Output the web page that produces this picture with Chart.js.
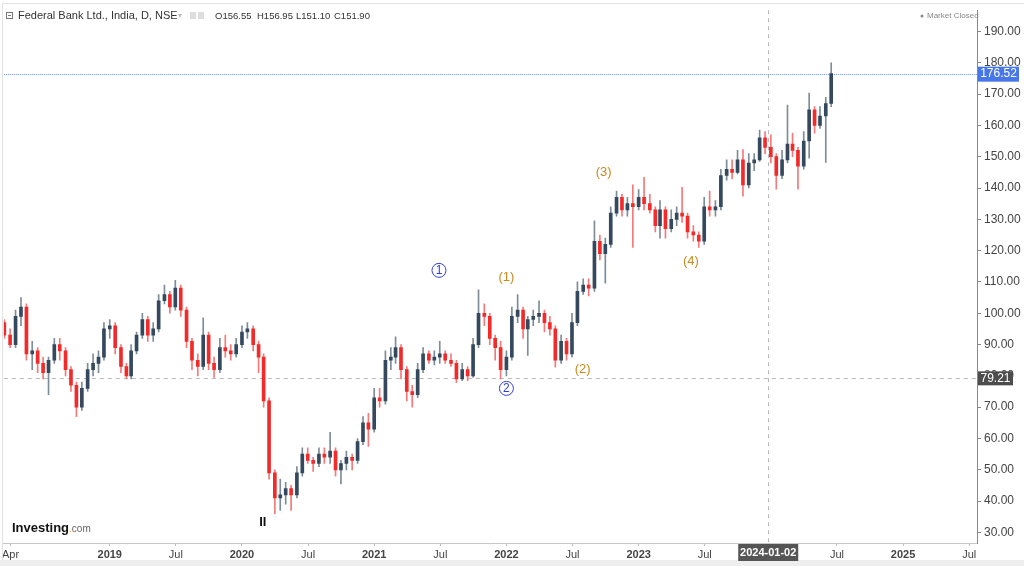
<!DOCTYPE html>
<html>
<head>
<meta charset="utf-8">
<script src="https://cdn.jsdelivr.net/npm/chart.js@4.4.1/dist/chart.umd.min.js"></script>
<style>
  html, body { margin: 0; padding: 0; background: #fff; }
  #wrap { position: relative; width: 1024px; height: 566px; overflow: hidden; }
  canvas { display: block; }
</style>
</head>
<body>
<div id="wrap"><canvas id="chart" width="1024" height="566"></canvas></div>
<script>
// half-month candles
const dates = [
  '2018-03-16','2018-04-01','2018-04-16','2018-05-01','2018-05-16','2018-06-01','2018-06-16','2018-07-01','2018-07-16','2018-08-01',
  '2018-08-16','2018-09-01','2018-09-16','2018-10-01','2018-10-16','2018-11-01','2018-11-16','2018-12-01','2018-12-16','2019-01-01',
  '2019-01-16','2019-02-01','2019-02-16','2019-03-01','2019-03-16','2019-04-01','2019-04-16','2019-05-01','2019-05-16','2019-06-01',
  '2019-06-16','2019-07-01','2019-07-16','2019-08-01','2019-08-16','2019-09-01','2019-09-16','2019-10-01','2019-10-16','2019-11-01',
  '2019-11-16','2019-12-01','2019-12-16','2020-01-01','2020-01-16','2020-02-01','2020-02-16','2020-03-01','2020-03-16','2020-04-01',
  '2020-04-16','2020-05-01','2020-05-16','2020-06-01','2020-06-16','2020-07-01','2020-07-16','2020-08-01','2020-08-16','2020-09-01',
  '2020-09-16','2020-10-01','2020-10-16','2020-11-01','2020-11-16','2020-12-01','2020-12-16','2021-01-01','2021-01-16','2021-02-01',
  '2021-02-16','2021-03-01','2021-03-16','2021-04-01','2021-04-16','2021-05-01','2021-05-16','2021-06-01','2021-06-16','2021-07-01',
  '2021-07-16','2021-08-01','2021-08-16','2021-09-01','2021-09-16','2021-10-01','2021-10-16','2021-11-01','2021-11-16','2021-12-01',
  '2021-12-16','2022-01-01','2022-01-16','2022-02-01','2022-02-16','2022-03-01','2022-03-16','2022-04-01','2022-04-16','2022-05-01',
  '2022-05-16','2022-06-01','2022-06-16','2022-07-01','2022-07-16','2022-08-01','2022-08-16','2022-09-01','2022-09-16','2022-10-01',
  '2022-10-16','2022-11-01','2022-11-16','2022-12-01','2022-12-16','2023-01-01','2023-01-16','2023-02-01','2023-02-16','2023-03-01',
  '2023-03-16','2023-04-01','2023-04-16','2023-05-01','2023-05-16','2023-06-01','2023-06-16','2023-07-01','2023-07-16','2023-08-01',
  '2023-08-16','2023-09-01','2023-09-16','2023-10-01','2023-10-16','2023-11-01','2023-11-16','2023-12-01','2023-12-16','2024-01-01',
  '2024-01-16','2024-02-01','2024-02-16','2024-03-01','2024-03-16','2024-04-01','2024-04-16','2024-05-01','2024-05-16','2024-06-01',
  '2024-06-16'
];
const opens = [
  97, 93, 90, 99, 102, 87, 88, 84, 81, 85,
  90, 88, 82, 77, 70, 76, 82, 84, 86, 95,
  96, 89, 83, 80, 88, 93, 98, 93, 95, 104,
  106, 102, 108, 101, 91, 85, 83, 93, 84, 82,
  89, 88, 87, 90, 94, 95, 90, 86, 72, 49,
  41, 42, 44, 42, 49, 55, 53, 52, 55, 54,
  56, 50, 52, 54, 53, 59, 65, 63, 73, 72,
  85, 86, 89, 82, 75, 74, 82, 87, 85, 86,
  87, 85, 84, 79, 82, 80, 90, 100, 99, 92,
  89, 82, 86, 99, 101, 95, 98, 99, 100, 97,
  95, 85, 91, 87, 97, 107, 109, 108, 123, 119,
  122, 132, 137, 133, 135, 134, 137, 135, 133, 128,
  133, 127, 130, 132, 131, 126, 125, 123, 134, 133,
  134, 144, 146, 145, 149, 141, 148, 149, 156, 153,
  150, 144, 149, 154, 152, 147, 155, 165, 160, 163,
  167
];
const highs = [
  98, 95, 101, 105, 103, 91, 89, 86, 86, 92,
  92, 89, 83, 78, 78, 84, 87, 88, 97, 98,
  97, 90, 84, 90, 94, 100, 99, 97, 106, 109,
  107, 110.5, 109, 102, 92, 87, 98.5, 94, 86, 92,
  93, 90, 92, 96, 97, 96, 91, 87, 73, 50,
  47, 46, 45, 51, 57, 57, 54, 57, 57, 62,
  57, 53, 56, 55, 60, 67, 68, 76, 76, 88,
  89, 92.5, 90, 83, 77, 84, 89, 88, 88, 91,
  88, 87, 85, 84, 83, 92, 107.5, 103, 100, 93,
  91, 88, 102, 106, 102, 99, 101, 104, 101, 99,
  96, 93, 92, 100, 110, 111, 111, 129.5, 125, 124,
  134, 139, 138, 137, 141, 139.5, 143.4, 138, 134, 136,
  134, 133, 134, 140.2, 132, 128, 126, 137, 139, 136,
  146, 149, 149, 152, 152.3, 151, 151, 158.5, 158, 157,
  151, 152, 166.5, 157.5, 153, 158, 170.3, 166, 166, 169,
  180
];
const lows = [
  92, 89, 89, 96, 85, 82, 81, 79, 74, 84,
  85, 80, 75, 67, 69, 75, 80, 81, 85, 92,
  87, 81, 79, 79, 87, 92, 91, 91, 94, 103,
  100, 101, 99, 89, 82, 80, 82, 82, 79.5, 81,
  86, 85, 86, 89, 92, 88, 81, 70, 47, 36,
  37, 39, 37, 41, 48, 52, 49.5, 51, 52, 52,
  48, 45.5, 50, 50, 52, 58, 57.5, 62, 70, 71,
  82, 84, 79, 72, 70, 73, 81, 84, 83.5, 84,
  84, 83, 77.8, 78.5, 78.5, 79.5, 89, 96, 90, 85,
  79, 80, 85, 97, 92, 86.5, 96, 97, 94, 93,
  82.8, 84, 85, 86, 96, 106, 105.5, 107, 117, 109.6,
  121, 131, 131, 131, 121, 133, 133, 132, 126, 124,
  124, 126, 128, 129, 124, 123, 121, 122, 131, 131,
  133, 142.5, 143, 144.5, 137.4, 140, 145.5, 148.5, 151, 148,
  139.6, 143, 148, 150, 139.6, 146, 149.5, 157.5, 159, 148.2,
  166
];
const closes = [
  93, 90, 99, 102, 87, 88, 84, 81, 85, 90,
  88, 82, 77, 70, 76, 82, 84, 86, 95, 96,
  89, 83, 80, 88, 93, 98, 93, 95, 104, 106,
  102, 108, 101, 91, 85, 83, 93, 84, 82, 89,
  88, 87, 90, 94, 95, 90, 86, 72, 49, 41,
  42, 44, 42, 49, 55, 53, 52, 55, 54, 56,
  50, 52, 54, 53, 59, 65, 63, 73, 72, 85,
  86, 89, 82, 75, 74, 82, 87, 85, 86, 87,
  85, 84, 79, 82, 80, 90, 100, 99, 92, 89,
  82, 86, 99, 101, 95, 98, 99, 100, 97, 95,
  85, 91, 87, 97, 107, 109, 108, 123, 119, 122,
  132, 137, 133, 135, 134, 137, 135, 133, 128, 133,
  127, 130, 132, 131, 126, 125, 123, 134, 133, 134,
  144, 146, 145, 149, 141, 148, 149, 156, 153, 150,
  144, 149, 154, 152, 147, 155, 165, 160, 163, 167,
  176.52
];

// axis ticks
const xTickValues = [2018.25, 2019, 2019.5, 2020, 2020.5, 2021, 2021.5, 2022, 2022.5, 2023, 2023.5, 2024, 2024.5, 2025, 2025.5];
const xTickLabels = ['Apr', '2019', 'Jul', '2020', 'Jul', '2021', 'Jul', '2022', 'Jul', '2023', 'Jul', '2024', 'Jul', '2025', 'Jul'];
const yTickValues = [30, 40, 50, 60, 70, 80, 90, 100, 110, 120, 130, 140, 150, 160, 170, 180, 190];

// wave count labels (x in years, y in price)
const circledText = ['1', '2'];
const circledX = [2021.49, 2022.0];
const circledY = [113.7, 76.0];
const waveText = ['(1)', '(2)', '(3)', '(4)'];
const waveX = [2022.0, 2022.577, 2022.735, 2023.395];
const waveY = [111.4, 82.1, 144.9, 116.5];

const crossDate = '2024-01-02';
const crossPrice = 79.21;
const lastPrice = 176.52;

const upColor = '#34495e';
const downColor = '#f22a2a';
const upWick = '#7d8d97';
const downWick = '#f27a7a';

function toYear(s) {
    const d = new Date(s + 'T00:00:00Z');
    const y = d.getUTCFullYear();
    const a = Date.UTC(y, 0, 1), b = Date.UTC(y + 1, 0, 1);
    return y + (d.getTime() - a) / (b - a);
}

const isUp = (i) => closes[i] >= opens[i];

const overlay = {
    id: 'overlay',
    beforeDatasetsDraw(chart) {
        const { ctx, chartArea: a, scales: { x, y } } = chart;
        ctx.save();
        // crosshair
        ctx.strokeStyle = '#b8b8b8';
        ctx.lineWidth = 1;
        ctx.setLineDash([4, 4]);
        const cx = Math.round(x.getPixelForValue(toYear(crossDate))) - 2.5;
        ctx.beginPath(); ctx.moveTo(cx, a.top); ctx.lineTo(cx, a.bottom); ctx.stroke();
        const cy = Math.round(y.getPixelForValue(crossPrice)) + 0.5;
        ctx.beginPath(); ctx.moveTo(a.left, cy); ctx.lineTo(a.right, cy); ctx.stroke();
        // last price line
        ctx.strokeStyle = '#6f8ff0';
        ctx.setLineDash([1, 1]);
        const ly = Math.round(y.getPixelForValue(lastPrice)) + 0.5;
        ctx.beginPath(); ctx.moveTo(a.left, ly); ctx.lineTo(a.right, ly); ctx.stroke();
        ctx.restore();
    },
    afterDraw(chart) {
        const { ctx, chartArea: a, scales: { x, y } } = chart;
        ctx.save();

        // frame lines
        ctx.strokeStyle = '#e2e2e2';
        ctx.lineWidth = 1;
        ctx.beginPath(); ctx.moveTo(2.5, 3); ctx.lineTo(2.5, 560); ctx.stroke();
        ctx.beginPath(); ctx.moveTo(2, 3.5); ctx.lineTo(1024, 3.5); ctx.stroke();

        // bottom strip
        ctx.fillStyle = '#eeeeee';
        ctx.fillRect(0, 560, 1024, 6);

        // title
        ctx.textBaseline = 'middle';
        ctx.fillStyle = '#333';
        ctx.strokeStyle = '#777';
        ctx.strokeRect(6.5, 12.5, 6, 6);
        ctx.beginPath(); ctx.moveTo(8, 15.5); ctx.lineTo(11, 15.5); ctx.stroke();
        ctx.font = '11px "Liberation Sans", Arial, sans-serif';
        ctx.fillText('Federal Bank Ltd., India, D, NSE', 18, 16);
        ctx.fillStyle = '#bbb';
        ctx.font = '8px "DejaVu Sans", sans-serif';
        ctx.fillText('\u25BE', 178, 16);
        ctx.fillStyle = '#ddd';
        ctx.fillRect(190, 12, 6, 7);
        ctx.fillRect(198, 12, 6, 7);
        ctx.fillStyle = '#333';
        ctx.font = '9.5px "Liberation Sans", Arial, sans-serif';
        ctx.fillText('O156.55', 215, 16);
        ctx.fillText('H156.95', 257, 16);
        ctx.fillText('L151.10', 296, 16);
        ctx.fillText('C151.90', 334, 16);

        // market closed
        ctx.fillStyle = '#888';
        ctx.beginPath(); ctx.arc(922, 16, 1.5, 0, Math.PI * 2); ctx.fill();
        ctx.font = '8px "Liberation Sans", Arial, sans-serif';
        ctx.fillText('Market Closed', 927, 16);

        // wave labels
        ctx.textAlign = 'center';
        ctx.font = '12px "Liberation Sans", Arial, sans-serif';
        for (let i = 0; i < circledText.length; i++) {
            const px = x.getPixelForValue(circledX[i]);
            const py = y.getPixelForValue(circledY[i]);
            ctx.strokeStyle = '#3340d8';
            ctx.fillStyle = '#ffffff';
            ctx.beginPath(); ctx.arc(px, py, 7, 0, Math.PI * 2); ctx.fill(); ctx.stroke();
            ctx.fillStyle = '#3340d8';
            ctx.fillText(circledText[i], px, py + 0.5);
        }
        ctx.fillStyle = '#c98a1f';
        ctx.font = '13px "Liberation Sans", Arial, sans-serif';
        for (let i = 0; i < waveText.length; i++) {
            ctx.fillText(waveText[i], x.getPixelForValue(waveX[i]), y.getPixelForValue(waveY[i]));
        }
        ctx.fillStyle = '#111';
        ctx.font = 'bold 13px "Liberation Sans", Arial, sans-serif';
        ctx.fillText('II', x.getPixelForValue(2020.158), y.getPixelForValue(33.1));

        // logo
        ctx.textAlign = 'left';
        ctx.font = 'bold 13px "Liberation Sans", Arial, sans-serif';
        ctx.fillStyle = '#111';
        ctx.fillText('Investing', 12, 528);
        const w = ctx.measureText('Investing').width;
        ctx.font = '10px "Liberation Sans", Arial, sans-serif';
        ctx.fillStyle = '#f5a623';
        ctx.fillText('.', 12 + w, 529);
        ctx.fillStyle = '#666';
        ctx.fillText('com', 12 + w + ctx.measureText('.').width, 529);

        // price labels on axis
        ctx.textAlign = 'center';
        ctx.font = '12px "Liberation Sans", Arial, sans-serif';
        const ly = y.getPixelForValue(lastPrice);
        ctx.fillStyle = '#4676e8';
        ctx.fillRect(a.right + 1, ly - 7, 41, 15);
        ctx.fillStyle = '#fff';
        ctx.fillText(lastPrice.toFixed(2), a.right + 21.5, ly + 0.5);
        const cy = y.getPixelForValue(crossPrice);
        ctx.fillStyle = '#4d4d4d';
        ctx.fillRect(a.right + 1, cy - 7, 35, 14);
        ctx.fillStyle = '#fff';
        ctx.fillText(crossPrice.toFixed(2), a.right + 18.5, cy + 0.5);

        // date label
        const cx = x.getPixelForValue(toYear(crossDate)) - 3;
        ctx.fillStyle = '#555';
        ctx.fillRect(cx - 30, a.bottom + 1, 60, 17);
        ctx.fillStyle = '#fff';
        ctx.font = 'bold 11px "Liberation Sans", Arial, sans-serif';
        ctx.fillText(crossDate, cx, a.bottom + 10);

        ctx.restore();
    }
};

const wickData = dates.map((d, i) => ({ x: toYear(d), y: [lows[i], highs[i]] }));
const bodyData = dates.map((d, i) => ({ x: toYear(d), y: [opens[i], closes[i]] }));

new Chart(document.getElementById('chart'), {
    type: 'bar',
    data: {
        datasets: [
            {
                label: 'wick',
                data: wickData,
                backgroundColor: (c) => isUp(c.dataIndex) ? upWick : downWick,
                barThickness: 1,
                grouped: false,
                borderWidth: 0,
                order: 2,
            },
            {
                label: 'body',
                data: bodyData,
                backgroundColor: (c) => isUp(c.dataIndex) ? upColor : downColor,
                barThickness: 3,
                grouped: false,
                borderWidth: 0,
                minBarLength: 1,
                order: 1,
            },
        ],
    },
    options: {
        responsive: false,
        animation: false,
        devicePixelRatio: 1,
        layout: { padding: { left: 3, top: 4, right: 0, bottom: 0 } },
        plugins: {
            legend: { display: false },
            tooltip: { enabled: false },
        },
        scales: {
            x: {
                type: 'linear',
                offset: false,
                min: 2018.199,
                max: 2025.559,
                afterBuildTicks: (s) => { s.ticks = xTickValues.map(v => ({ value: v })); },
                afterFit: (s) => { s.height = 23; },
                grid: { offset: false, drawOnChartArea: false, tickLength: 3, color: '#bbbbbb' },
                border: { color: '#c6c6c6' },
                ticks: {
                    autoSkip: false,
                    maxRotation: 0,
                    padding: 2,
                    color: '#444',
                    font: (c) => ({
                        family: '"Liberation Sans", Arial, sans-serif',
                        size: 11,
                        weight: /^\d{4}$/.test(xTickLabels[c.index]) ? 'bold' : 'normal',
                    }),
                    callback: (v, i) => xTickLabels[i],
                },
            },
            y: {
                type: 'linear',
                position: 'right',
                min: 26.62,
                max: 196.79,
                afterBuildTicks: (s) => { s.ticks = yTickValues.map(v => ({ value: v })); },
                afterFit: (s) => { s.width = 47; },
                grid: { drawOnChartArea: false, tickLength: 4, color: '#888' },
                border: { color: '#888' },
                ticks: {
                    padding: 3,
                    color: '#444',
                    font: { family: '"Liberation Sans", Arial, sans-serif', size: 12 },
                    callback: (v) => Number(v).toFixed(2),
                },
            },
        },
    },
    plugins: [overlay],
});
</script>
</body>
</html>
